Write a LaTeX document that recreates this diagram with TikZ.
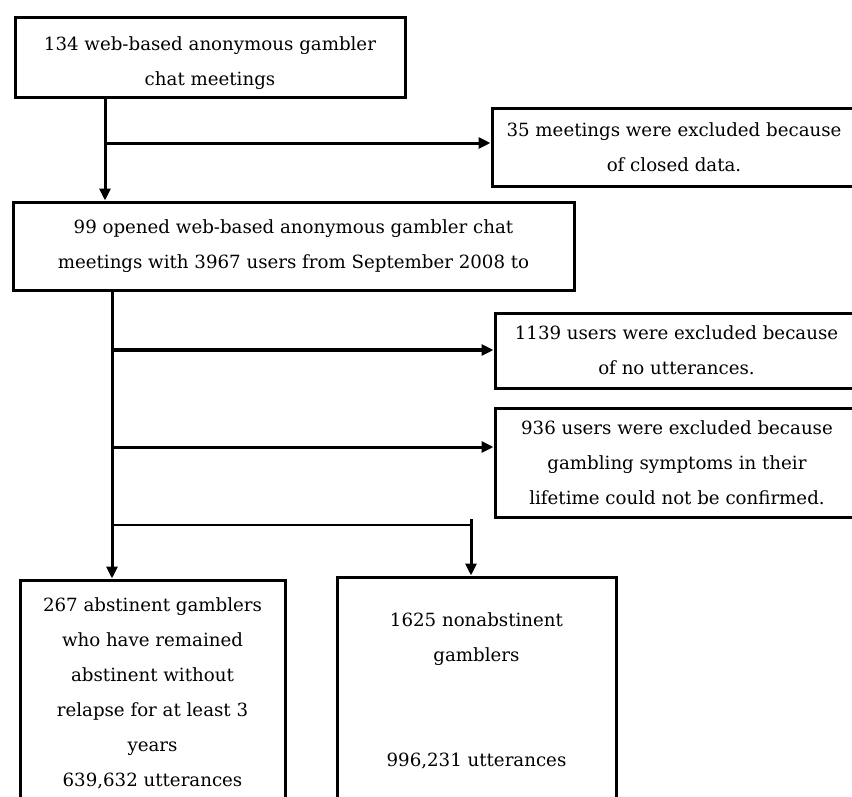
\documentclass[tikz,border=0pt]{standalone}
\usepackage{fontspec}
\setmainfont{DejaVu Serif}
\usetikzlibrary{arrows.meta}
\begin{document}
\begin{tikzpicture}[x=1pt,y=-1pt,
  box/.style={draw, line width=3pt, inner sep=0pt, align=center, font=\fontsize{18.2}{35}\selectfont},
  conn/.style={line width=3pt, -{Triangle[length=12pt,width=11pt]}}]
\useasboundingbox (0,0) rectangle (852,796);
\fill[white] (0,0) rectangle (852,796);
\clip (0,0) rectangle (852,796);
\node[box, minimum width=390pt, minimum height=80pt] (b1) at (210,57) {\rule{0pt}{26pt}134 web-based anonymous gambler\\chat meetings};
\node[box, minimum width=364pt, minimum height=78pt] (b2) at (674,147) {35 meetings were excluded because\\of closed data.};
\node[box, minimum width=561pt, minimum height=88pt] (b3) at (293.5,246) {99 opened web-based anonymous gambler chat\\meetings with 3967 users from September 2008 to};
\node[box, minimum width=363pt, minimum height=75pt] (b4) at (676.5,350.5) {1139 users were excluded because\\of no utterances.};
\node[box, minimum width=364pt, minimum height=109pt] (b5) at (677,462.5) {936 users were excluded because\\gambling symptoms in their\\lifetime could not be confirmed.};
\node[box, minimum width=265pt, minimum height=226pt] (b6) at (152.5,693) {267 abstinent gamblers\\who have remained\\abstinent without\\relapse for at least 3\\years\\639,632 utterances};
\node[box, minimum width=279pt, minimum height=228pt] (b7) at (476.5,691) {1625 nonabstinent\\gamblers\\[35pt]\\996,231 utterances};
\coordinate (t1) at (105,143);
\coordinate (t2) at (112,350);
\coordinate (t3) at (112,447);
\coordinate (t4) at (112,525);
\coordinate (t5) at (471,519);
\draw[conn] (b1.south -| t1) -- (b3.north -| t1);
\draw[conn] (t1) -- (t1 -| b2.west);
\draw[conn] (b3.south -| t2) -- (b6.north -| t2);
\draw[conn, line width=4pt] (t2) -- (t2 -| b4.west);
\draw[conn] (t3) -- (t3 -| b5.west);
\draw[line width=1.5pt] (t4) -- (t4 -| t5);
\draw[conn] (t5) -- (t5 |- b7.north);
\end{tikzpicture}
\end{document}
